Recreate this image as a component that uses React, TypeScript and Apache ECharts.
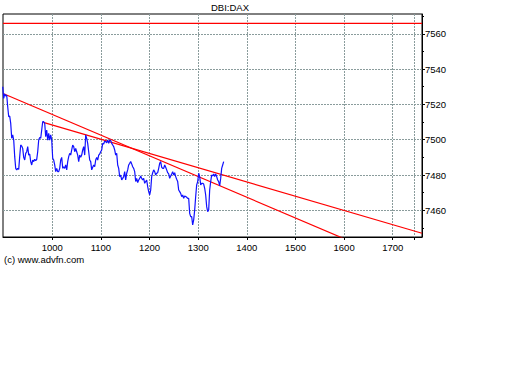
import React, { useEffect, useRef } from "react";
import * as echarts from "echarts";

const chartTitle = "DBI:DAX";
const credit = "(c) www.advfn.com";

const xLabelValues = [1000, 1100, 1200, 1300, 1400, 1500, 1600, 1700];
const xGridValues = [1000, 1100, 1200, 1300, 1400, 1500, 1600, 1700, 1744];
const yLabelValues = [7460, 7480, 7500, 7520, 7540, 7560];
const yMinorValues = [7450, 7470, 7490, 7510, 7530, 7550, 7570];
const xRange = [898.6, 1760.2];
const yRange = [7444.9, 7571.2];

// price samples, one per trading tick
const firstTick = 898;
const tickStep = 2.056;
const prices = [
  7530.0, 7523.4, 7525.9, 7524.7, 7525.3, 7518.7, 7513.0, 7513.4, 7509.3, 7500.8,
  7502.7, 7499.8, 7490.4, 7483.8, 7482.9, 7483.8, 7483.2, 7490.4, 7497.0, 7496.4,
  7495.1, 7490.0, 7488.5, 7492.3, 7493.2, 7496.1, 7491.3, 7491.9, 7487.6, 7485.7,
  7488.5, 7487.6, 7488.9, 7488.1, 7488.9, 7493.2, 7499.8, 7501.3, 7500.8, 7505.5,
  7510.2, 7510.2, 7509.3, 7501.7, 7505.5, 7499.8, 7503.6, 7499.8, 7502.7, 7499.8,
  7489.5, 7488.5, 7485.7, 7481.9, 7483.8, 7481.9, 7481.9, 7483.8, 7488.5, 7490.0,
  7483.8, 7484.7, 7483.8, 7485.7, 7482.9, 7487.6, 7490.4, 7492.3, 7491.3, 7494.2,
  7497.0, 7496.1, 7493.2, 7495.1, 7493.2, 7491.3, 7487.6, 7491.3, 7490.0, 7491.3,
  7494.2, 7496.1, 7491.3, 7502.7, 7500.8, 7497.9, 7493.2, 7488.5, 7487.6, 7482.9,
  7484.4, 7485.7, 7484.7, 7488.5, 7490.0, 7488.5, 7491.3, 7491.9, 7493.2, 7494.2,
  7497.9, 7497.6, 7499.3, 7498.9, 7498.3, 7499.8, 7497.9, 7499.8, 7499.5, 7497.9,
  7497.0, 7496.1, 7494.2, 7491.3, 7492.3, 7485.7, 7483.8, 7479.1, 7480.0, 7477.2,
  7478.1, 7479.1, 7481.9, 7477.2, 7481.0, 7482.9, 7485.7, 7486.6, 7487.6, 7486.3,
  7484.7, 7483.8, 7481.9, 7476.3, 7478.1, 7475.7, 7477.2, 7478.1, 7479.5, 7478.1,
  7477.2, 7478.1, 7475.3, 7476.3, 7477.2, 7473.4, 7470.6, 7468.7, 7471.5, 7479.1,
  7481.3, 7482.9, 7481.9, 7480.0, 7481.0, 7481.3, 7483.8, 7486.6, 7487.6, 7484.4,
  7483.8, 7483.8, 7485.7, 7484.4, 7482.9, 7481.3, 7480.6, 7478.1, 7479.5, 7480.6,
  7481.9, 7480.0, 7481.3, 7479.1, 7477.6, 7476.3, 7471.5, 7470.6, 7469.6, 7467.8,
  7468.7, 7466.8, 7468.1, 7467.8, 7467.4, 7466.8, 7466.8, 7458.3, 7456.4, 7456.4,
  7451.7, 7454.6, 7460.2, 7467.8, 7474.4, 7476.3, 7481.0, 7479.1, 7474.4, 7475.3,
  7475.3, 7474.9, 7472.5, 7468.7, 7462.1, 7459.3, 7460.2, 7471.5, 7476.3, 7480.0,
  7479.5, 7480.6, 7479.1, 7480.6, 7479.1, 7477.2, 7476.3, 7473.8, 7478.1, 7483.8,
  7485.7, 7487.6,
];

const resistanceLine = [
  [898.6, 7565.9],
  [1760.2, 7565.9],
];
const trendLineA = [
  [898.6, 7526.2],
  [1620, 7441.6],
];
const trendLineB = [
  [981.5, 7509.8],
  [1760.2, 7447.0],
];

const FONT = "'Liberation Sans', Arial, sans-serif";

export default function App() {
  const ref = useRef<HTMLDivElement>(null);

  useEffect(() => {
    if (!ref.current) return;
    const chart = echarts.init(ref.current, undefined, { renderer: "svg" });
    const priceData = prices.map((v, i) => [firstTick + i * tickStep, v]);
    const gridLine = { show: true, lineStyle: { color: "#8a9c9c", type: [2, 1] as any, width: 1 } };
    const plain = (v: number) => String(Math.round(v));

    chart.setOption({
      animation: false,
      backgroundColor: "#ffffff",
      textStyle: { fontFamily: FONT },
      grid: {
        left: 3,
        top: 14,
        width: 419,
        height: 223,
        show: true,
        borderColor: "#000",
        borderWidth: 1,
        backgroundColor: "transparent",
      },
      graphic: [
        {
          type: "text",
          x: 230,
          y: 7,
          style: {
            text: chartTitle,
            fontFamily: FONT,
            fontSize: 9.5,
            fill: "#000",
            align: "center",
            verticalAlign: "middle",
          },
        },
        {
          type: "text",
          x: 4,
          y: 259.5,
          style: {
            text: credit,
            fontFamily: FONT,
            fontSize: 9.5,
            fill: "#000",
            align: "left",
            verticalAlign: "middle",
          },
        },
      ],
      xAxis: {
        type: "value",
        min: xRange[0],
        max: xRange[1],
        axisLine: { show: true, onZero: false, lineStyle: { color: "#000", width: 1 } },
        axisTick: { show: true, length: 3, customValues: xGridValues, lineStyle: { color: "#000" } },
        axisLabel: {
          show: true,
          customValues: xLabelValues,
          formatter: plain,
          margin: 5,
          fontSize: 9.5,
          fontFamily: FONT,
          color: "#000",
        },
        splitLine: gridLine,
      },
      yAxis: [
        {
          type: "value",
          position: "right",
          min: yRange[0],
          max: yRange[1],
          axisLine: { show: true, lineStyle: { color: "#000", width: 1 } },
          axisTick: { show: true, length: 3, customValues: yLabelValues, lineStyle: { color: "#000" } },
          axisLabel: {
            show: true,
            customValues: yLabelValues,
            formatter: plain,
            margin: 3,
            fontSize: 9.5,
            fontFamily: FONT,
            color: "#000",
          },
          splitLine: gridLine,
        },
        {
          type: "value",
          position: "right",
          min: yRange[0],
          max: yRange[1],
          axisLine: { show: false },
          axisTick: { show: true, length: 2, customValues: yMinorValues, lineStyle: { color: "#000" } },
          axisLabel: { show: false },
          splitLine: { show: false },
        },
      ],
      series: [
        {
          type: "line",
          data: resistanceLine,
          symbol: "none",
          lineStyle: { color: "#ff0000", width: 1.2 },
          silent: true,
        },
        {
          type: "line",
          data: trendLineA,
          symbol: "none",
          lineStyle: { color: "#ff0000", width: 1.2 },
          silent: true,
        },
        {
          type: "line",
          data: trendLineB,
          symbol: "none",
          lineStyle: { color: "#ff0000", width: 1.2 },
          silent: true,
        },
        {
          type: "line",
          data: priceData,
          symbol: "none",
          lineStyle: { color: "#1010ff", width: 1.2 },
          silent: true,
        },
      ],
    });

    return () => chart.dispose();
  }, []);

  return (
    <div
      ref={ref}
      style={{ position: "fixed", left: 0, top: 0, width: 512, height: 384, background: "#fff" }}
    />
  );
}
